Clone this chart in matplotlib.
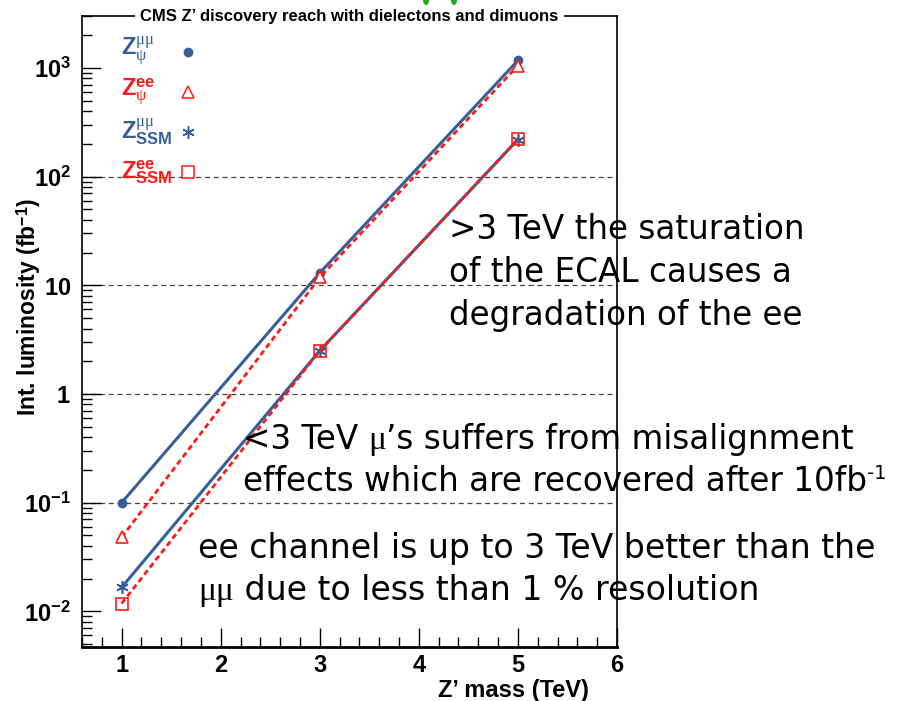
import matplotlib
matplotlib.use("Agg")
import matplotlib.pyplot as plt
from matplotlib.ticker import FixedLocator, NullFormatter, FixedFormatter, LogLocator
from matplotlib.patches import Ellipse
import numpy as np

plt.rcParams['mathtext.fontset'] = 'custom'
plt.rcParams['mathtext.rm'] = 'Liberation Sans'
plt.rcParams['mathtext.bf'] = 'Liberation Sans:bold'
plt.rcParams['mathtext.it'] = 'Liberation Serif'

# Z' mass points (TeV) and the integrated luminosity needed for discovery (fb^-1)
mass = [1, 3, 5]
psi_mumu = [0.1, 13, 1170]
psi_ee = [0.048, 11.8, 1050]
ssm_mumu = [0.0166, 2.5, 219]
ssm_ee = [0.0118, 2.5, 220]

x_ticks = [1, 2, 3, 4, 5, 6]
y_ticks = [1e-2, 1e-1, 1, 10, 1e2, 1e3]
y_tick_labels = [r'$\mathbf{10^{-2}}$', r'$\mathbf{10^{-1}}$', r'$\mathbf{1}$',
                 r'$\mathbf{10}$', r'$\mathbf{10^{2}}$', r'$\mathbf{10^{3}}$']

BLUE = '#365f96'
RED = '#ff1a1a'
W, H = 908, 701

fig = plt.figure(figsize=(W / 100, H / 100), dpi=100)
renderer = fig.canvas.get_renderer()

# bits of green from the slide header peeking in at the top edge
for gx in (426, 454):
    fig.patches.append(Ellipse((gx / W, 1.0), 6 / W, 10 / H, transform=fig.transFigure,
                               facecolor='#22aa22', edgecolor='none'))

ax = fig.add_axes([82 / W, 1 - 647 / H, 535 / W, 631 / H])
ax.set_xlim(0.6, 6.0)
ax.set_yscale('log')
ax.set_ylim(0.0047, 3000)

ax.plot(mass, psi_mumu, color=BLUE, lw=2.2, marker='o', ms=6, zorder=3)
ax.plot(mass, ssm_mumu, color=BLUE, lw=2.2, marker=(6, 2, 0), ms=9, mew=1.2, zorder=3)
ax.plot(mass, psi_ee, color=RED, lw=2.0, ls=(0, (2, 1.3)), marker='^', ms=8,
        mfc='white', mec=RED, mew=1.2, zorder=4)
ax.plot(mass, ssm_ee, color=RED, lw=2.0, ls=(0, (2, 1.3)), marker='s', ms=8,
        mfc='none', mec=RED, mew=1.2, zorder=4)

for g in [0.1, 1, 10, 100]:
    ax.axhline(g, color='#444444', lw=0.9, ls=(0, (4, 3)), zorder=1)

ax.xaxis.set_major_locator(FixedLocator(x_ticks))
ax.xaxis.set_minor_locator(FixedLocator(np.arange(0.6, 6.01, 0.2)))
ax.yaxis.set_major_locator(FixedLocator(y_ticks))
ax.yaxis.set_major_formatter(FixedFormatter(y_tick_labels))
ax.yaxis.set_minor_locator(LogLocator(base=10, subs=np.arange(2, 10)))
ax.yaxis.set_minor_formatter(NullFormatter())
ax.tick_params(which='both', direction='in', top=False, right=False, width=1.0)
ax.tick_params(axis='x', which='major', length=14, pad=5)
ax.tick_params(axis='x', which='minor', length=7)
ax.tick_params(axis='y', which='major', length=14, pad=8)
ax.tick_params(axis='y', which='minor', length=7)
ax.tick_params(axis='both', labelsize=17)
for lab in ax.get_xticklabels():
    lab.set_fontweight('bold')
    lab.set_fontfamily('Liberation Sans')
for s in ax.spines.values():
    s.set_linewidth(1.2)
ax.spines['bottom'].set_linewidth(2.0)

ax.set_xlabel("Z\u2019 mass (TeV)", fontsize=17, fontweight='bold',
              family='Liberation Sans', ha='right')
ax.set_ylabel(r"Int. luminosity (fb$^{\mathbf{-1}}$)", fontsize=16.5, fontweight='bold',
              family='Liberation Sans', ha='center')
ax.yaxis.set_label_coords(-0.073, 0.539)
ax.xaxis.set_label_coords(0.947, -0.051)

ax.text(0.5, 1.0, "CMS Z\u2019 discovery reach with dielectons and dimuons",
        transform=ax.transAxes, ha='center', va='center', fontsize=12,
        fontweight='bold', family='Liberation Sans', zorder=10,
        bbox=dict(facecolor='white', edgecolor='none', pad=4))

# legend drawn by hand, ROOT style
leg = [
    (r'$\mathbf{Z}^{\mu\mu}_{\psi}$', BLUE, dict(marker='o', ms=6, mfc=BLUE, mec=BLUE), 0.943),
    (r'$\mathbf{Z}^{\mathbf{ee}}_{\psi}$', RED, dict(marker='^', ms=8, mfc='white', mec=RED, mew=1.1), 0.880),
    (r'$\mathbf{Z}^{\mu\mu}_{\mathbf{SSM}}$', BLUE, dict(marker=(6, 2, 0), ms=9, mec=BLUE, mew=1.1), 0.816),
    (r'$\mathbf{Z}^{\mathbf{ee}}_{\mathbf{SSM}}$', RED, dict(marker='s', ms=8, mfc='white', mec=RED, mew=1.1), 0.753),
]
for label, col, mk, yy in leg:
    ax.text(0.072, yy, label, transform=ax.transAxes, color=col, fontsize=17,
            ha='left', va='center', zorder=6)
    ax.plot([0.198], [yy], transform=ax.transAxes, ls='none', zorder=6, **mk)

# annotation lines, each a sequence of text runs laid out along one baseline
SANS = dict(family='DejaVu Sans', size=23.5)
SANS_L = dict(family='DejaVu Sans', size=23.9)
SERIF = dict(family='Liberation Serif', size=24)
SUP = dict(family='DejaVu Sans', size=14)


def text_runs(x, baseline, runs):
    for txt, props, rise in runs:
        t = fig.text(x / W, 1 - (baseline - rise) / H, txt, ha='left', va='baseline',
                     color='black', **props)
        x = t.get_window_extent(renderer).x1 + (2 if rise else 0)


notes = [
    (449, 239, [(">3 TeV the saturation", SANS, 0)]),
    (449, 282, [("of the ECAL causes a", SANS, 0)]),
    (449, 325, [("degradation of the ee", SANS, 0)]),
    (243, 449, [("<3 TeV ", SANS, 0), ("\u03bc", SERIF, 0),
                ("\u2019s suffers from misalignment", SANS, 0)]),
    (243, 491, [("effects which are recovered after 10fb", SANS, 0), ("-1", SUP, 12)]),
    (198, 558, [("ee channel is up to 3 TeV better than the", SANS_L, 0)]),
    (198, 600, [("\u03bc\u03bc", SERIF, 0), (" due to less than 1 % resolution", SANS_L, 0)]),
]
for x, base, runs in notes:
    text_runs(x, base, runs)

fig.savefig('out.png', dpi=100)
